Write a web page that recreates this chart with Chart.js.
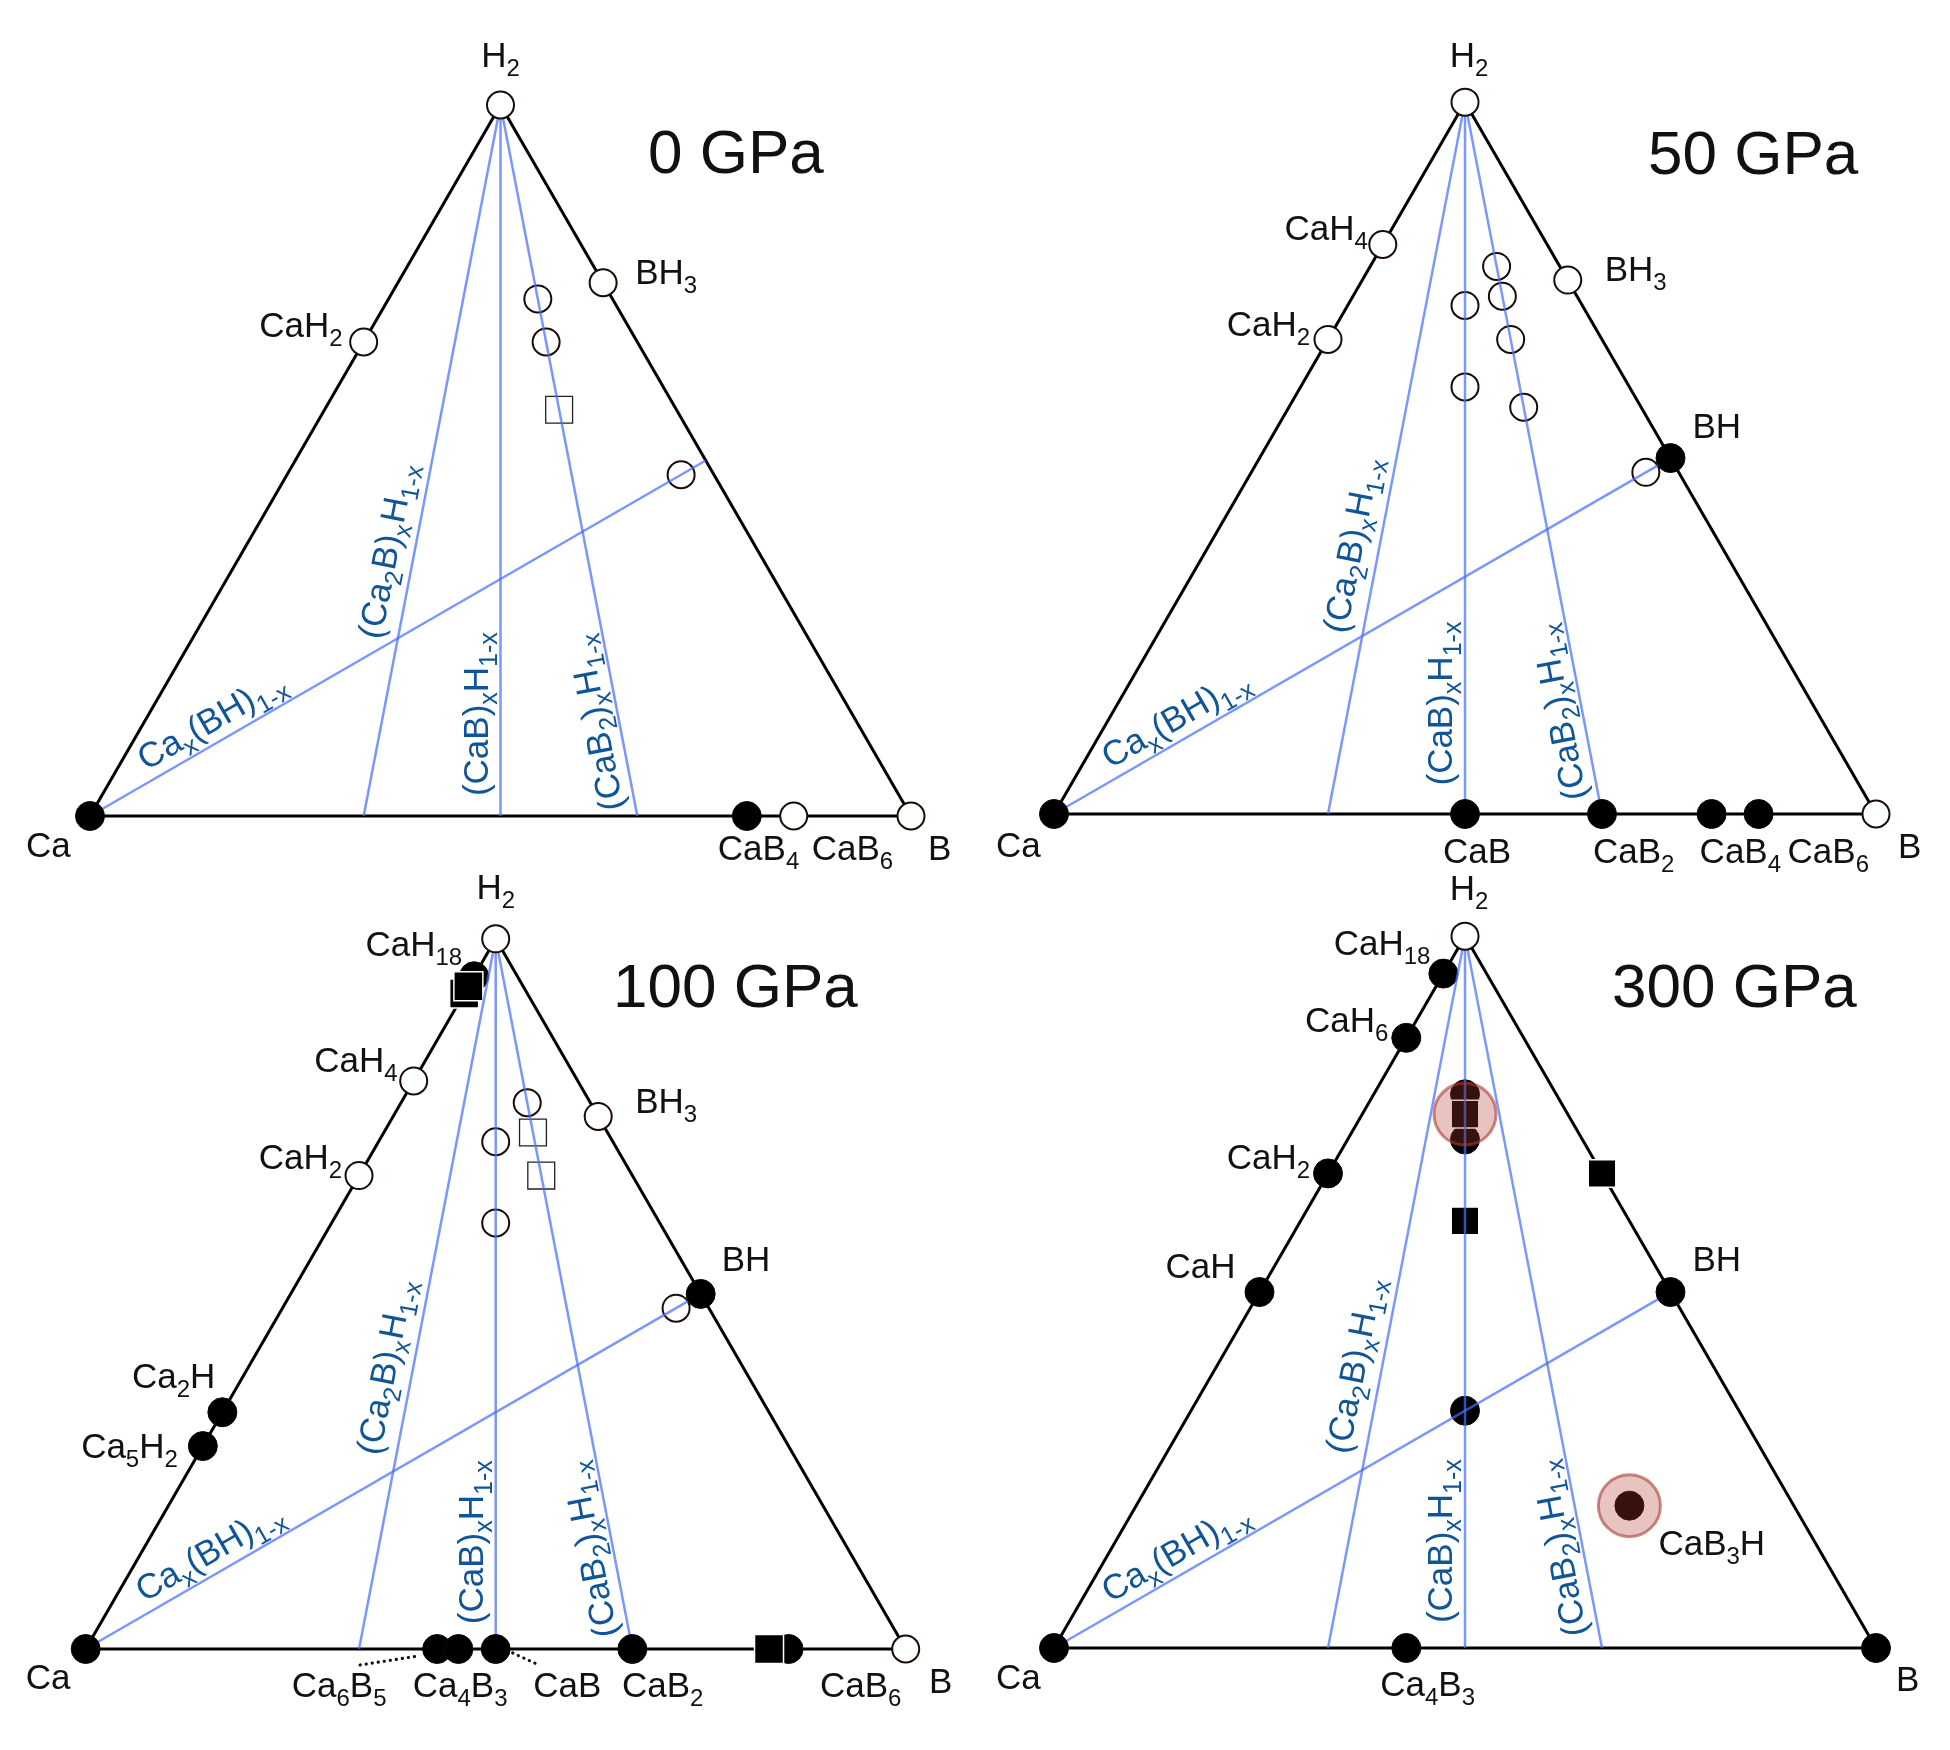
<!DOCTYPE html>
<html><head><meta charset="utf-8">
<script src="https://cdn.jsdelivr.net/npm/chart.js@4.4.1/dist/chart.umd.min.js"></script>
<style>
html,body{margin:0;padding:0;background:#fff;}
#wrap{position:relative;width:1950px;height:1750px;background:#fff;overflow:hidden;}
#wrap canvas{position:absolute;}
</style></head><body>
<div id="wrap">
<canvas id="p0" width="975" height="875" style="left:0;top:0"></canvas>
<canvas id="p1" width="975" height="875" style="left:975px;top:0"></canvas>
<canvas id="p2" width="975" height="875" style="left:0;top:875px"></canvas>
<canvas id="p3" width="975" height="875" style="left:975px;top:875px"></canvas>
</div>
<script>
// ================= DATA (compositions = atoms of [Ca, B, H]) =================
const vertexComp = [[1,0,0],[0,1,0],[0,0,1]]; // Ca, B, H
const tieLineNames = ['Ca_{x}(BH)_{1-x}','(Ca_{2}B)_{x}H_{1-x}','(CaB)_{x}H_{1-x}','(CaB_{2})_{x}H_{1-x}'];
const tieLineFrom = [[1,0,0],[2,1,0],[1,1,0],[1,2,0]];
const tieLineTo   = [[0,1,1],[0,0,1],[0,0,1],[0,0,1]];
const pressures = ['0 GPa','50 GPa','100 GPa','300 GPa'];

// 0 GPa
const p0FilledCircle = [[1,0,0],[1,4,0]];
const p0OpenCircle = [[0,0,1],[1,0,2],[0,1,3],[1,6,0],[0,1,0],[1,2,8],[1,2,6],[1,12,12]];
const p0OpenSquare = [[1,2,4]];
const p0FilledSquare = [];
const p0Highlight = [];
const p0LabelText = ['H_{2}','CaH_{2}','BH_{3}','Ca','CaB_{4}','CaB_{6}','B'];
const p0LabelComp = [[0,0,1],[1,0,2],[0,1,3],[1,0,0],[1,4,0],[1,6,0],[0,1,0]];

// 50 GPa
const p1FilledCircle = [[1,0,0],[1,1,0],[1,2,0],[1,4,0],[1,6,0],[0,1,1]];
const p1OpenCircle = [[0,0,1],[1,0,4],[1,0,2],[0,1,3],[0,1,0],[1,2,10],[1,1,5],[1,2,8],[1,2,6],[1,1,3],[1,2,4],[1,12,12]];
const p1OpenSquare = [];
const p1FilledSquare = [];
const p1Highlight = [];
const p1LabelText = ['H_{2}','CaH_{4}','CaH_{2}','BH_{3}','BH','Ca','CaB','CaB_{2}','CaB_{4}','CaB_{6}','B'];
const p1LabelComp = [[0,0,1],[1,0,4],[1,0,2],[0,1,3],[0,1,1],[1,0,0],[1,1,0],[1,2,0],[1,4,0],[1,6,0],[0,1,0]];

// 100 GPa
const p2FilledCircle = [[1,0,0],[1,0,18],[2,0,1],[5,0,2],[0,1,1],[4,3,0],[6,5,0],[1,1,0],[1,2,0],[1,6,0]];
const p2OpenCircle = [[0,0,1],[1,0,4],[1,0,2],[0,1,3],[0,1,0],[1,2,10],[1,1,5],[1,1,3],[1,12,12]];
const p2OpenSquare = [[1,2,8],[1,2,6]];
const p2FilledSquare = [[1,0,12],[1,0,14],[1,5,0]];
const p2Highlight = [];
const p2LabelText = ['H_{2}','CaH_{18}','CaH_{4}','CaH_{2}','BH_{3}','BH','Ca_{2}H','Ca_{5}H_{2}','Ca','Ca_{6}B_{5}','Ca_{4}B_{3}','CaB','CaB_{2}','CaB_{6}','B'];
const p2LabelComp = [[0,0,1],[1,0,18],[1,0,4],[1,0,2],[0,1,3],[0,1,1],[2,0,1],[5,0,2],[1,0,0],[6,5,0],[4,3,0],[1,1,0],[1,2,0],[1,6,0],[0,1,0]];

// 300 GPa
const p3FilledCircle = [[1,0,0],[4,3,0],[0,1,0],[1,0,18],[1,0,6],[1,0,2],[1,0,1],[0,1,1],[1,1,1],[1,1,7],[1,1,5],[1,3,1]];
const p3OpenCircle = [[0,0,1]];
const p3OpenSquare = [];
const p3FilledSquare = [[0,1,2],[1,1,3],[1,1,6]];
const p3Highlight = [[1,1,6],[1,3,1]];
const p3LabelText = ['H_{2}','CaH_{18}','CaH_{6}','CaH_{2}','CaH','BH','CaB_{3}H','Ca','Ca_{4}B_{3}','B'];
const p3LabelComp = [[0,0,1],[1,0,18],[1,0,6],[1,0,2],[1,0,1],[0,1,1],[1,3,1],[1,0,0],[4,3,0],[0,1,0]];

// ================= LAYOUT / STYLE =================
const FONT = '"Liberation Sans", Arial, Helvetica, sans-serif';
const LABEL_FS = 35, LABEL_SS = 24, LABEL_SHIFT = 9;
const LINE_FS = 35, LINE_SS = 25, LINE_SHIFT = 9;
const TITLE_FS = 62;
const BLUE = 'rgba(70,110,255,0.72)';
const LINE_TEXT = '#0f5597';

const panels = [
 { id:'p0', ox:90, base:816, side:821, title:[648,173], sqR:20,
   fc:p0FilledCircle, oc:p0OpenCircle, os:p0OpenSquare, fs:p0FilledSquare, hl:p0Highlight,
   lt:p0LabelText, lc:p0LabelComp,
   lp:[[0,-38,'center'],[-21,-5,'right'],[32,1,'left'],[-64,41,'left'],[-29,44,'left'],[18,44,'left'],[17,44,'left']],
   ll:[[0.1,11],[0.243,16],[0.028,13],[0.014,12]], leaders:[] },
 { id:'p1', ox:79, base:814, side:822, title:[673,174], sqR:20,
   fc:p1FilledCircle, oc:p1OpenCircle, os:p1OpenSquare, fs:p1FilledSquare, hl:p1Highlight,
   lt:p1LabelText, lc:p1LabelComp,
   lp:[[4,-35,'center'],[-15,-5,'right'],[-18,-3,'right'],[37,1,'left'],[22,-20,'left'],[-58,43,'left'],[-22,49,'left'],[-9,49,'left'],[-12,49,'left'],[29,49,'left'],[22,44,'left']],
   ll:[[0.1,11],[0.248,16],[0.04,13],[0.026,12]], leaders:[] },
 { id:'p2', ox:85.7, base:774, side:820, title:[613,132], sqR:20.5,
   fc:p2FilledCircle, oc:p2OpenCircle, os:p2OpenSquare, fs:p2FilledSquare, hl:p2Highlight,
   lt:p2LabelText, lc:p2LabelComp,
   lp:[[0,-40,'center'],[-12,-20,'right'],[-16,-9,'right'],[-17,-7,'right'],[37,-3,'left'],[21,-23,'left'],[-7,-24,'right'],[-25,12,'right'],[-60,40,'left'],[-166.7,48,'left'],[-24.4,48,'left'],[37.6,48,'left'],[-10.4,48,'left'],[31.4,48,'left'],[23.3,44,'left']],
   ll:[[0.104,11],[0.267,16],[0.035,13],[0.023,12]],
   leaders:[[10,-77,16,-19,7],[11,17,4,41,15]] },
 { id:'p3', ox:79, base:773, side:822, title:[637,132], sqR:19.5,
   fc:p3FilledCircle, oc:p3OpenCircle, os:p3OpenSquare, fs:p3FilledSquare, hl:p3Highlight,
   lt:p3LabelText, lc:p3LabelComp,
   lp:[[4,-36,'center'],[-13,-19,'right'],[-18,-6,'right'],[-18,-4,'right'],[-24,-14,'right'],[22,-21,'left'],[29,49,'left'],[-58,41,'left'],[-26,48,'left'],[20,43,'left']],
   ll:[[0.1,11],[0.267,16],[0.035,13],[0.023,12]], leaders:[] }
];

// ================= HELPERS =================
function toXY(c){ const s=c[0]+c[1]+c[2]; return {x:(c[1]+c[2]/2)/s, y:(c[2]/s)*Math.sqrt(3)/2}; }
function norm(c){ const s=c[0]+c[1]+c[2]; return c.map(v=>v/s); }
function sameComp(a,b){ const x=norm(a), y=norm(b); return Math.abs(x[0]-y[0])<1e-9 && Math.abs(x[1]-y[1])<1e-9; }
const endpoints = tieLineFrom.concat(tieLineTo);
function isEndpoint(c){ return endpoints.some(e=>sameComp(e,c)); }

function parseRich(s){
  const out=[]; let i=0, buf='';
  while(i<s.length){
    if(s[i]==='_' && s[i+1]==='{'){
      if(buf){out.push({t:buf,sub:false}); buf='';}
      const j=s.indexOf('}',i); out.push({t:s.slice(i+2,j),sub:true}); i=j+1;
    } else { buf+=s[i]; i++; }
  }
  if(buf) out.push({t:buf,sub:false});
  return out;
}
function drawRich(ctx,s,x,y,align,fs,ss,shift,color){
  const segs=parseRich(s);
  const fM=fs+'px '+FONT, fS=ss+'px '+FONT;
  let w=0; for(const g of segs){ctx.font=g.sub?fS:fM; w+=ctx.measureText(g.t).width;}
  let cx = align==='center'? x-w/2 : (align==='right'? x-w : x);
  ctx.fillStyle=color; ctx.textBaseline='alphabetic'; ctx.textAlign='left';
  for(const g of segs){ ctx.font=g.sub?fS:fM; ctx.fillText(g.t,cx,y+(g.sub?shift:0)); cx+=ctx.measureText(g.t).width; }
}

function buildPanel(P, idx){
  const canvas=document.getElementById(P.id);
  const W=canvas.width, H=canvas.height;
  const under = a=>a.filter(c=>!isEndpoint(c)).map(toXY);
  const over = a=>a.filter(c=>isEndpoint(c)).map(toXY);
  const ds=[];
  ds.push({data:[vertexComp[0],vertexComp[1],vertexComp[2],vertexComp[0]].map(toXY), showLine:true, borderColor:'#000', borderWidth:3, pointRadius:0, order:30, borderJoinStyle:'miter'});
  const openSq={pointStyle:'rect', pointRadius:19, backgroundColor:'#fff', borderColor:'#222', borderWidth:1.3, showLine:false};
  const openC={pointStyle:'circle', pointRadius:13.5, backgroundColor:'#fff', borderColor:'#1a0c04', borderWidth:2, showLine:false};
  const fillC={pointStyle:'circle', pointRadius:14.5, backgroundColor:'#000', borderColor:'#110800', borderWidth:1, showLine:false};
  const fillS={pointStyle:'rect', pointRadius:P.sqR, backgroundColor:'#000', borderColor:'#fff', borderWidth:1.5, showLine:false};
  ds.push(Object.assign({data:under(P.os), order:18}, openSq));
  ds.push(Object.assign({data:under(P.oc), order:17}, openC));
  ds.push(Object.assign({data:under(P.fc), order:16}, fillC));
  ds.push(Object.assign({data:under(P.fs), order:15}, fillS));
  for(let i=0;i<tieLineFrom.length;i++){
    ds.push({data:[toXY(tieLineFrom[i]),toXY(tieLineTo[i])], showLine:true, borderColor:BLUE, borderWidth:2.5, pointRadius:0, order:12});
  }
  ds.push(Object.assign({data:over(P.oc), order:9}, openC));
  ds.push(Object.assign({data:over(P.fc), order:8}, fillC));
  ds.push(Object.assign({data:over(P.fs), order:7}, fillS));
  ds.push({data:P.hl.map(toXY), showLine:false, pointStyle:'circle', pointRadius:31, backgroundColor:'rgba(180,60,50,0.30)', borderColor:'rgba(170,60,50,0.6)', borderWidth:3, order:1});
  ds.forEach(d=>{d.clip=false; d.pointHoverRadius=d.pointRadius;});

  const textPlugin={ id:'texts'+idx, afterDraw(chart){
    const ctx=chart.ctx, xs=chart.scales.x, ys=chart.scales.y;
    const px=c=>{const p=toXY(c); return [xs.getPixelForValue(p.x), ys.getPixelForValue(p.y)];};
    ctx.save();
    for(let i=0;i<tieLineFrom.length;i++){
      const A=px(tieLineFrom[i]), B=px(tieLineTo[i]);
      const th=Math.atan2(B[1]-A[1],B[0]-A[0]);
      const t=P.ll[i][0], off=P.ll[i][1];
      ctx.save();
      ctx.translate(A[0]+t*(B[0]-A[0]), A[1]+t*(B[1]-A[1]));
      ctx.rotate(th);
      drawRich(ctx,tieLineNames[i],0,-off,'left',LINE_FS,LINE_SS,LINE_SHIFT,LINE_TEXT);
      ctx.restore();
    }
    for(let i=0;i<P.lt.length;i++){
      const p=px(P.lc[i]); const o=P.lp[i];
      drawRich(ctx,P.lt[i],p[0]+o[0],p[1]+o[1],o[2],LABEL_FS,LABEL_SS,LABEL_SHIFT,'#111');
    }
    ctx.strokeStyle='#111'; ctx.lineWidth=3.2; ctx.lineCap='round'; ctx.setLineDash([0.1,6]);
    for(const L of P.leaders){
      const p=px(P.lc[L[0]]);
      ctx.beginPath(); ctx.moveTo(p[0]+L[1],p[1]+L[2]); ctx.lineTo(p[0]+L[3],p[1]+L[4]); ctx.stroke();
    }
    ctx.setLineDash([]);
    ctx.font=TITLE_FS+'px '+FONT; ctx.fillStyle='#111'; ctx.textAlign='left'; ctx.textBaseline='alphabetic';
    ctx.fillText(pressures[idx], P.title[0], P.title[1]);
    ctx.restore();
  }};

  new Chart(canvas,{
    type:'scatter',
    data:{datasets:ds},
    options:{
      responsive:false, animation:false, devicePixelRatio:1, events:[],
      layout:{padding:0, autoPadding:false},
      plugins:{legend:{display:false}, tooltip:{enabled:false}, title:{display:false}},
      scales:{
        x:{type:'linear', display:false, bounds:'data', min:-P.ox/P.side, max:(W-P.ox)/P.side},
        y:{type:'linear', display:false, bounds:'data', min:-(H-P.base)/P.side, max:P.base/P.side}
      }
    },
    plugins:[textPlugin]
  });
}
panels.forEach(buildPanel);
</script>
</body></html>
